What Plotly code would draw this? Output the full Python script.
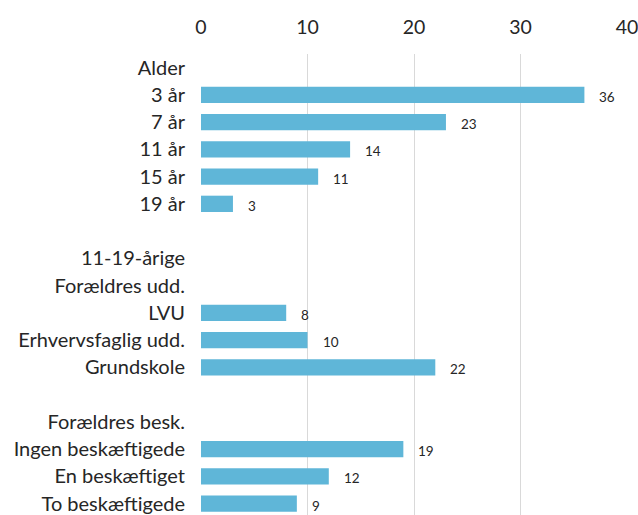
import plotly.graph_objects as go

# Row labels, top to bottom (blank strings are spacer rows between groups)
categories = [
    "Alder", "3 år", "7 år", "11 år", "15 år", "19 år", " ",
    "11-19-årige", "Forældres udd.", "LVU", "Erhvervsfaglig udd.", "Grundskole", "  ",
    "Forældres besk.", "Ingen beskæftigede", "En beskæftiget", "To beskæftigede",
]
values = [
    None, 36, 23, 14, 11, 3, None,
    None, None, 8, 10, 22, None,
    None, 19, 12, 9,
]
x_ticks = [0, 10, 20, 30, 40]

BAR = "#5FB6D8"
TEXT = "#262626"
FONT = "Lato, Open Sans, sans-serif"

fig = go.Figure(
    go.Bar(
        x=values,
        y=categories,
        orientation="h",
        marker=dict(color=BAR, line=dict(width=0)),
        hoverinfo="skip",
    )
)

# value labels just past each bar end
for cat, val in zip(categories, values):
    if val is None:
        continue
    fig.add_annotation(
        x=val, y=cat, text=str(val), showarrow=False,
        xanchor="left", xshift=13, yshift=-2,
        font=dict(family=FONT, size=13.5, color=TEXT),
    )

fig.update_layout(
    width=638, height=515,
    margin=dict(l=201, r=11, t=54, b=0),
    paper_bgcolor="white", plot_bgcolor="white",
    bargap=0.4,
    showlegend=False,
    font=dict(family=FONT, color=TEXT),
)
fig.update_xaxes(
    side="top", range=[0, 40], tickvals=x_ticks,
    showgrid=True, gridcolor="#D9D9D9", gridwidth=1,
    zeroline=False, showline=False, ticks="",
    tickfont=dict(family=FONT, size=19.5, color=TEXT),
    ticklabelstandoff=15, ticklabeloverflow="allow",
)
fig.update_yaxes(
    type="category", categoryorder="array", categoryarray=categories,
    range=[16.42, -0.5], showgrid=False, zeroline=False, showline=False,
    ticks="", tickfont=dict(family=FONT, size=20, color=TEXT),
    ticklabelstandoff=15,
)

fig.write_html("out.html")
